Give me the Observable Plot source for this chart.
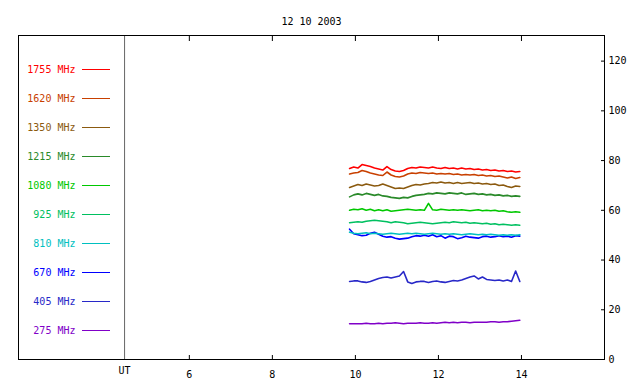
<!DOCTYPE html>
<html>
<head>
<meta charset="utf-8">
<script src="https://cdn.jsdelivr.net/npm/d3@7"></script>
<script src="https://cdn.jsdelivr.net/npm/@observablehq/plot@0.6"></script>
<style>
  html, body { margin: 0; padding: 0; background: white; }
  #wrap { position: relative; width: 640px; height: 384px; }
  #legend { position: absolute; left: 0; top: 0; }
</style>
</head>
<body>
<div id="wrap"><div id="main"></div><div id="legend"></div></div>
<script>
const titleText = "12 10 2003";
const freqLabels = ["1755 MHz", "1620 MHz", "1350 MHz", "1215 MHz", "1080 MHz", "925 MHz", "810 MHz", "670 MHz", "405 MHz", "275 MHz"];
const freqColors = ["#ff0000", "#c84000", "#8b5a0f", "#2a8a2a", "#00c800", "#00c060", "#00c0c0", "#0000ff", "#2828c8", "#8000c8"];
const xTicks = [6, 8, 10, 12, 14];
const yTicks = [0, 20, 40, 60, 80, 100, 120];
const utTime = 4.44;
const xDomain = [1.885, 16];
const yDomain = [0, 130.3];

const times = [9.86, 9.96, 10.06, 10.16, 10.26, 10.36, 10.46, 10.56, 10.66, 10.76,
  10.86, 10.96, 11.06, 11.16, 11.26, 11.36, 11.46, 11.56, 11.66, 11.76,
  11.86, 11.96, 12.06, 12.16, 12.26, 12.36, 12.46, 12.56, 12.66, 12.76,
  12.86, 12.96, 13.06, 13.16, 13.26, 13.36, 13.46, 13.56, 13.66, 13.76,
  13.86, 13.96];

const s1755 = [76.8, 77.4, 77.0, 78.4, 78.0, 77.6, 77.0, 76.6, 76.2, 77.6,
  76.4, 75.8, 75.6, 76.0, 76.8, 77.2, 77.0, 77.4, 77.2, 77.0,
  77.4, 77.0, 76.8, 77.2, 76.8, 77.0, 76.6, 77.0, 76.6, 76.8,
  76.4, 76.6, 76.2, 76.4, 76.0, 76.2, 75.8, 76.0, 75.6, 75.8,
  75.4, 75.6];
const s1620 = [74.6, 75.0, 75.2, 76.0, 75.6, 75.0, 74.6, 74.2, 74.0, 75.4,
  74.2, 73.6, 73.4, 73.8, 74.6, 75.0, 74.8, 75.2, 75.0, 74.8,
  75.0, 74.6, 74.8, 74.6, 74.8, 74.4, 74.6, 74.2, 74.4, 74.2,
  74.4, 74.0, 74.2, 73.8, 74.0, 73.6, 73.8, 73.4, 73.0, 73.4,
  72.8, 73.2];
const s1350 = [69.2, 69.8, 70.4, 70.0, 70.6, 70.2, 69.8, 70.0, 70.6, 70.0,
  69.4, 68.8, 69.0, 68.8, 69.4, 70.0, 70.4, 70.2, 70.6, 70.8,
  71.2, 71.0, 71.4, 71.0, 71.2, 70.8, 71.2, 70.8, 71.0, 71.2,
  70.8, 71.0, 70.6, 70.8, 70.4, 70.6, 70.0, 70.2, 69.6, 69.2,
  69.8, 69.6];
const s1215 = [65.4, 66.2, 66.6, 66.2, 66.8, 66.4, 66.0, 66.4, 65.8, 65.6,
  65.2, 65.0, 64.8, 65.2, 65.0, 65.6, 66.0, 66.2, 66.4, 66.8,
  66.6, 67.0, 66.8, 66.6, 67.0, 66.8, 66.6, 67.0, 66.4, 66.6,
  66.8, 66.4, 66.6, 66.2, 66.4, 66.0, 66.2, 65.8, 66.0, 65.6,
  65.8, 65.6];
const s1080 = [60.0, 60.4, 60.2, 60.6, 60.0, 60.4, 59.8, 60.2, 59.8, 60.2,
  59.6, 59.8, 60.0, 60.2, 60.4, 60.2, 60.0, 60.2, 60.0, 62.8,
  60.2, 60.0, 60.4, 60.2, 60.0, 60.2, 60.0, 60.2, 60.0, 59.8,
  60.0, 60.2, 59.8, 60.0, 59.8, 60.0, 59.6, 59.8, 59.4, 59.2,
  59.4, 59.2];
const s925 = [55.0, 55.2, 55.4, 55.2, 55.6, 55.8, 56.0, 55.8, 55.6, 55.4,
  55.0, 55.4, 55.2, 55.0, 54.6, 54.8, 55.0, 55.2, 55.0, 54.8,
  54.6, 54.8, 55.0, 55.2, 55.0, 55.4, 55.2, 55.0, 55.2, 54.8,
  55.0, 54.8, 54.6, 54.8, 54.4, 54.6, 54.2, 54.4, 54.2, 54.0,
  54.2, 54.0];
const s810 = [51.2, 50.8, 50.6, 50.8, 51.0, 50.6, 50.8, 50.6, 50.4, 50.6,
  50.8, 50.6, 50.4, 50.6, 50.8, 50.6, 50.8, 50.6, 50.4, 50.6,
  50.8, 50.6, 50.4, 50.6, 50.4, 50.6, 50.4, 50.2, 50.4, 50.6,
  50.4, 50.2, 50.4, 50.2, 50.4, 50.2, 50.0, 50.2, 50.0, 50.2,
  50.0, 50.2];
const s670 = [52.4, 50.6, 50.2, 49.8, 50.0, 50.8, 51.2, 50.4, 49.6, 49.2,
  49.4, 48.8, 48.4, 48.6, 48.8, 49.4, 49.8, 49.6, 50.0, 49.6,
  50.2, 49.4, 49.8, 48.8, 49.6, 49.4, 48.6, 49.0, 49.6, 49.2,
  49.0, 48.8, 49.4, 49.6, 49.2, 49.4, 49.8, 49.4, 49.6, 49.2,
  49.8, 49.6];
const s405 = [31.4, 31.6, 31.6, 31.2, 31.0, 31.4, 32.0, 32.6, 33.0, 33.2,
  32.8, 33.2, 33.6, 35.4, 31.2, 30.6, 31.2, 31.4, 31.4, 31.0,
  31.4, 31.6, 31.2, 31.0, 31.4, 31.8, 31.6, 32.0, 32.6, 33.2,
  33.6, 32.4, 33.2, 32.2, 32.0, 31.8, 32.0, 31.6, 32.0, 31.4,
  35.6, 31.4];
const s275 = [14.4, 14.4, 14.4, 14.4, 14.6, 14.4, 14.4, 14.6, 14.4, 14.6,
  14.6, 14.8, 14.6, 14.4, 14.6, 14.6, 14.6, 14.8, 14.6, 14.6,
  14.8, 14.6, 14.8, 15.0, 14.8, 15.0, 14.8, 15.0, 15.0, 14.8,
  15.0, 15.0, 15.0, 15.0, 15.2, 15.2, 15.0, 15.2, 15.2, 15.4,
  15.6, 15.8];

const seriesList = [s1755, s1620, s1350, s1215, s1080, s925, s810, s670, s405, s275];

// Build long table; draw low frequencies first so higher ones sit on top.
const rows = [];
for (let k = seriesList.length - 1; k >= 0; k--) {
  seriesList[k].forEach((v, i) => rows.push({t: times[i], v, f: freqLabels[k]}));
}

const font = {fontFamily: "'DejaVu Sans Mono', monospace", fontSize: "10px", background: "transparent", color: "black"};

const main = Plot.plot({
  width: 640,
  height: 384,
  marginLeft: 18,
  marginRight: 36,
  marginTop: 35,
  marginBottom: 25,
  style: font,
  x: {domain: xDomain, label: null},
  y: {domain: yDomain, label: null},
  color: {domain: freqLabels, range: freqColors},
  marks: [
    Plot.ruleX([utTime], {stroke: "#666666"}),
    Plot.line(rows, {x: "t", y: "v", z: "f", stroke: "f", strokeWidth: 1.6}),
    Plot.frame({stroke: "black"}),
    Plot.axisX(xTicks, {anchor: "bottom", tickSize: -4, tickPadding: 15, label: null, tickFormat: d => String(d)}),
    Plot.axisX([utTime], {anchor: "bottom", tickSize: 0, tickPadding: 7, label: null, tickFormat: () => "UT"}),
    Plot.axisX(xTicks, {anchor: "top", tickSize: -5, label: null, tickFormat: () => ""}),
    Plot.axisY(yTicks, {anchor: "right", tickSize: -4, tickPadding: 8, label: null, tickFormat: d => String(d)}),
    Plot.text([titleText], {frameAnchor: "top", dy: -17.5, fill: "black"})
  ]
});
document.getElementById("main").appendChild(main);

const legend = Plot.plot({
  width: 124,
  height: 384,
  margin: 0,
  style: font,
  y: {type: "point", domain: freqLabels, range: [67.7, 330.5], padding: 0, axis: null},
  color: {domain: freqLabels, range: freqColors},
  marks: [
    Plot.tickY(freqLabels, {y: d => d, stroke: d => d, insetLeft: 82, insetRight: 14}),
    Plot.text(freqLabels, {y: d => d, text: d => d, fill: d => d, frameAnchor: "left", textAnchor: "end", dx: 75})
  ]
});
document.getElementById("legend").appendChild(legend);
</script>
</body>
</html>
